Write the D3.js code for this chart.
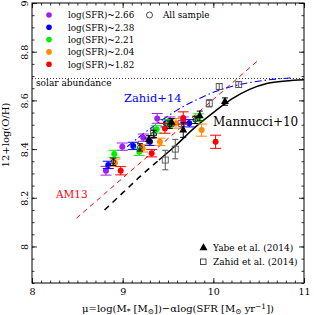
<!DOCTYPE html>
<html>
<head>
<meta charset="utf-8">
<script src="https://cdn.jsdelivr.net/npm/d3@7"></script>
<style>
body { margin: 0; background: #fff; }
text { font-family: "DejaVu Serif", serif; fill: #000; }
</style>
</head>
<body>
<div id="chart"></div>
<script>
// SFR bins (colored points)
const sfrLabels = ["log(SFR)~2.66", "log(SFR)~2.38", "log(SFR)~2.21", "log(SFR)~2.04", "log(SFR)~1.82"];
const sfrColors = ["#a020f0", "#0000ff", "#00ee00", "#ff8c00", "#ff0000"];
const binMu = [
  [8.816, 8.996, 9.227, 9.381, 9.521, 9.668],
  [8.841, 9.117, 9.301, 9.477, 9.734],
  [8.907, 9.183, 9.375, 9.503, 9.834],
  [8.915, 9.220, 9.411, 9.588, 9.871],
  [8.978, 9.320, 9.466, 9.668, 10.025]
];
const binOH = [
  [8.311, 8.410, 8.447, 8.526, 8.517, 8.517],
  [8.335, 8.413, 8.430, 8.506, 8.506],
  [8.380, 8.389, 8.481, 8.506, 8.530],
  [8.344, 8.403, 8.430, 8.506, 8.478],
  [8.311, 8.383, 8.485, 8.528, 8.430]
];
const binErr = [
  [0.018, 0.015, 0.015, 0.02, 0.015, 0.015],
  [0.015, 0.015, 0.015, 0.015, 0.015],
  [0.015, 0.015, 0.015, 0.015, 0.015],
  [0.015, 0.015, 0.015, 0.02, 0.025],
  [0.017, 0.015, 0.02, 0.025, 0.027]
];

// all sample (open circles)
const allMu = [8.896, 9.19, 9.345, 9.52, 9.80];
const allOH = [8.348, 8.407, 8.462, 8.50, 8.52];
const allErr = [0.015, 0.015, 0.015, 0.015, 0.015];

// Yabe et al. (2014)
const yabeMu = [9.29, 9.54, 9.668, 9.85, 10.128];
const yabeOH = [8.44, 8.51, 8.478, 8.536, 8.595];
const yabeErr = [0.015, 0.015, 0.03, 0.02, 0.015];

// Zahid et al. (2014)
const zahidMu = [9.34, 9.47, 9.58, 9.65, 9.955, 10.065, 10.28];
const zahidOH = [8.467, 8.355, 8.40, 8.505, 8.588, 8.657, 8.665];
const zahidErr = [0.02, 0.04, 0.04, 0.02, 0.015, 0.012, 0.012];

// relations
const mannucciMu = [8.8, 9.0, 9.2, 9.4, 9.6, 9.8, 10.0, 10.2, 10.4, 10.6, 10.8, 11.0];
const mannucciOH = [8.15, 8.22, 8.29, 8.355, 8.42, 8.49, 8.55, 8.605, 8.645, 8.67, 8.68, 8.685];
const mannucciBreak = 9.4;
const am13Mu = [8.49, 10.5];
const am13OH = [8.116, 8.766];
const zahidFitMu = [9.05, 9.2, 9.4, 9.6, 9.8, 10.0, 10.2, 10.4, 10.6, 10.85];
const zahidFitOH = [8.41, 8.455, 8.51, 8.56, 8.6, 8.633, 8.657, 8.673, 8.684, 8.692];
const solarOH = 8.69;

const xTicks = [8, 9, 10, 11];
const yTicks = [8, 8.2, 8.4, 8.6, 8.8, 9];

const width = 314, height = 315;
const mLeft = 32, mRight = 304, mTop = 3, mBottom = 283;

var svg = d3.select("#chart").append("svg")
  .attr("width", width).attr("height", height);

var x = d3.scaleLinear().domain([8, 11]).range([mLeft, mRight]);
var y = d3.scaleLinear().domain([7.85, 9.0]).range([mBottom, mTop]);

// axes, ticks inward on all sides
function minor(step, dom) {
  return d3.range(dom[0], dom[1] + 1e-9, step);
}
var xMinor = minor(0.1, x.domain());
var yMinor = minor(0.05, [7.85, 9.0]);

svg.append("g").attr("transform", `translate(0,${mBottom})`)
  .call(d3.axisBottom(x).tickValues(xMinor).tickFormat("").tickSizeInner(-2.5).tickSizeOuter(0));
svg.append("g").attr("transform", `translate(0,${mTop})`)
  .call(d3.axisTop(x).tickValues(xMinor).tickFormat("").tickSizeInner(-2.5).tickSizeOuter(0));
svg.append("g").attr("transform", `translate(${mLeft},0)`)
  .call(d3.axisLeft(y).tickValues(yMinor).tickFormat("").tickSizeInner(-2.5).tickSizeOuter(0));
svg.append("g").attr("transform", `translate(${mRight},0)`)
  .call(d3.axisRight(y).tickValues(yMinor).tickFormat("").tickSizeInner(-2.5).tickSizeOuter(0));

var xAxis = svg.append("g").attr("transform", `translate(0,${mBottom})`)
  .call(d3.axisBottom(x).tickValues(xTicks).tickFormat(d3.format("d")).tickSizeInner(-5).tickSizeOuter(0).tickPadding(5));
svg.append("g").attr("transform", `translate(0,${mTop})`)
  .call(d3.axisTop(x).tickValues(xTicks).tickFormat("").tickSizeInner(-5).tickSizeOuter(0));
var yAxis = svg.append("g").attr("transform", `translate(${mLeft},0)`)
  .call(d3.axisLeft(y).tickValues(yTicks).tickFormat((d) => d3.format("")(d)).tickSizeInner(-5).tickSizeOuter(0));
svg.append("g").attr("transform", `translate(${mRight},0)`)
  .call(d3.axisRight(y).tickValues(yTicks).tickFormat("").tickSizeInner(-5).tickSizeOuter(0));

svg.selectAll(".domain").remove();
svg.selectAll(".tick line").attr("stroke", "#000").attr("stroke-width", 0.8);
xAxis.selectAll("text").attr("font-family", "DejaVu Serif").attr("font-size", 9.5).attr("fill", "#000");
yAxis.selectAll("text")
  .attr("font-family", "DejaVu Serif").attr("font-size", 9.5).attr("fill", "#000")
  .attr("x", 0).attr("y", 0).attr("dy", 0)
  .attr("text-anchor", "middle")
  .attr("transform", "translate(-4.5,0) rotate(-90)");

svg.append("rect")
  .attr("x", mLeft).attr("y", mTop)
  .attr("width", mRight - mLeft).attr("height", mBottom - mTop)
  .attr("fill", "none").attr("stroke", "#000").attr("stroke-width", 1);

// solar abundance
svg.append("line")
  .attr("x1", x(8)).attr("x2", x(11))
  .attr("y1", y(solarOH)).attr("y2", y(solarOH))
  .attr("stroke", "#000").attr("stroke-width", 0.8).attr("stroke-dasharray", "1,2");
svg.append("text").attr("x", 36).attr("y", 86)
  .attr("font-size", 9).text("solar abundance");

var line = d3.line().x((d) => x(d[0])).y((d) => y(d[1])).curve(d3.curveMonotoneX);

// Mannucci+10
var mann = mannucciMu.map((m, i) => [m, mannucciOH[i]]);
svg.append("path")
  .datum(mann.filter((d) => d[0] <= mannucciBreak))
  .attr("d", line).attr("fill", "none")
  .attr("stroke", "#000").attr("stroke-width", 1.5).attr("stroke-dasharray", "6,5");
svg.append("path")
  .datum(mann.filter((d) => d[0] >= mannucciBreak))
  .attr("d", line).attr("fill", "none")
  .attr("stroke", "#000").attr("stroke-width", 1.5);

// AM13
svg.append("path")
  .datum(am13Mu.map((m, i) => [m, am13OH[i]]))
  .attr("d", line).attr("fill", "none")
  .attr("stroke", "#ff0000").attr("stroke-width", 1).attr("stroke-dasharray", "5,4");

// Zahid+14 fit
svg.append("path")
  .datum(zahidFitMu.map((m, i) => [m, zahidFitOH[i]]))
  .attr("d", line).attr("fill", "none")
  .attr("stroke", "#0000ff").attr("stroke-width", 1.1).attr("stroke-dasharray", "7,3,1.5,3");

// error bars helper
function errorBars(g, mu, oh, err, color, cap) {
  var idx = d3.range(mu.length);
  g.selectAll(null).data(idx).enter().append("line")
    .attr("x1", (i) => x(mu[i])).attr("x2", (i) => x(mu[i]))
    .attr("y1", (i) => y(oh[i] - err[i])).attr("y2", (i) => y(oh[i] + err[i]))
    .attr("stroke", color).attr("stroke-width", 1);
  [-1, 1].forEach((s) => {
    g.selectAll(null).data(idx).enter().append("line")
      .attr("x1", (i) => x(mu[i]) - cap).attr("x2", (i) => x(mu[i]) + cap)
      .attr("y1", (i) => y(oh[i] + s * err[i])).attr("y2", (i) => y(oh[i] + s * err[i]))
      .attr("stroke", color).attr("stroke-width", 1);
  });
}

// Zahid data (open squares)
var gz = svg.append("g");
errorBars(gz, zahidMu, zahidOH, zahidErr, "#555", 3);
gz.selectAll("rect").data(d3.range(zahidMu.length)).enter().append("rect")
  .attr("x", (i) => x(zahidMu[i]) - 3).attr("y", (i) => y(zahidOH[i]) - 3)
  .attr("width", 6).attr("height", 6)
  .attr("fill", "none").attr("stroke", "#555").attr("stroke-width", 0.9);

// SFR bins
sfrColors.forEach((c, b) => {
  var g = svg.append("g");
  errorBars(g, binMu[b], binOH[b], binErr[b], c, 5.5);
  g.selectAll("circle").data(d3.range(binMu[b].length)).enter().append("circle")
    .attr("cx", (i) => x(binMu[b][i])).attr("cy", (i) => y(binOH[b][i]))
    .attr("r", 3).attr("fill", c);
});

// all sample
var ga = svg.append("g");
errorBars(ga, allMu, allOH, allErr, "#000", 3);
ga.selectAll("circle").data(d3.range(allMu.length)).enter().append("circle")
  .attr("cx", (i) => x(allMu[i])).attr("cy", (i) => y(allOH[i]))
  .attr("r", 2.3).attr("fill", "none").attr("stroke", "#000").attr("stroke-width", 0.8);

// Yabe (filled triangles)
var gy = svg.append("g");
errorBars(gy, yabeMu, yabeOH, yabeErr, "#000", 3);
var tri = d3.symbol().type(d3.symbolTriangle).size(28);
gy.selectAll("path").data(d3.range(yabeMu.length)).enter().append("path")
  .attr("d", tri)
  .attr("transform", (i) => `translate(${x(yabeMu[i])},${y(yabeOH[i])})`)
  .attr("fill", "#000");

// labels for relations
svg.append("text").attr("x", 124).attr("y", 102).attr("font-size", 11.5)
  .style("fill", "#0000ff").text("Zahid+14");
svg.append("text").attr("x", 213).attr("y", 126).attr("font-size", 12)
  .text("Mannucci+10");
svg.append("text").attr("x", 56).attr("y", 198).attr("font-size", 10.5)
  .style("fill", "#ff0000").text("AM13");

// legend (top)
var legY = [15, 27.3, 39.6, 51.9, 64.2];
sfrLabels.forEach((t, i) => {
  svg.append("circle").attr("cx", 49).attr("cy", legY[i]).attr("r", 2.8).attr("fill", sfrColors[i]);
  svg.append("text").attr("x", 68).attr("y", legY[i] + 3.3).attr("font-size", 8.8).text(t);
});
svg.append("circle").attr("cx", 149.5).attr("cy", 15).attr("r", 3)
  .attr("fill", "none").attr("stroke", "#000").attr("stroke-width", 0.7);
svg.append("text").attr("x", 163).attr("y", 18.3).attr("font-size", 8.8).text("All sample");

// legend (bottom)
svg.append("path").attr("d", tri).attr("transform", "translate(203.5,248)").attr("fill", "#000");
svg.append("text").attr("x", 213).attr("y", 251).attr("font-size", 9).text("Yabe et al. (2014)");
svg.append("rect").attr("x", 200.5).attr("y", 259).attr("width", 5.5).attr("height", 5.5)
  .attr("fill", "none").attr("stroke", "#000").attr("stroke-width", 0.7);
svg.append("text").attr("x", 213).attr("y", 265).attr("font-size", 9).text("Zahid et al. (2014)");

// axis titles
var xl = svg.append("text").attr("x", 178).attr("y", 312).attr("text-anchor", "middle").attr("font-size", 10);
xl.append("tspan").text("\u03bc=log(M");
xl.append("tspan").attr("font-size", 7.5).attr("dy", 2).text("*");
xl.append("tspan").attr("dy", -2).text(" [M");
xl.append("tspan").attr("font-size", 7.5).attr("dy", 2).text("\u2299");
xl.append("tspan").attr("dy", -2).text("])\u2212\u03b1log(SFR [M");
xl.append("tspan").attr("font-size", 7.5).attr("dy", 2).text("\u2299");
xl.append("tspan").attr("dy", -2).text(" yr");
xl.append("tspan").attr("font-size", 7.5).attr("dy", -3.5).text("\u22121");
xl.append("tspan").attr("dy", 3.5).text("])");

svg.append("text")
  .attr("transform", "translate(9,135) rotate(-90)")
  .attr("text-anchor", "middle").attr("font-size", 10)
  .text("12+log(O/H)");
</script>
</body>
</html>
